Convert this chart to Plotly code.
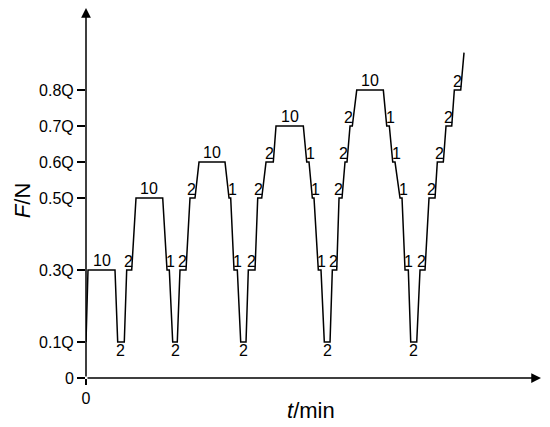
import plotly.graph_objects as go

# Vertices of the loading program: time (min) and force (fraction of Q)
t_min = [0.0, 0.75, 10.86, 11.87, 14.34, 15.24, 17.12, 18.73, 28.73, 30.34,
         31.2, 32.47, 34.19, 35.2, 37.45, 38.95, 40.82, 42.32, 52.06, 53.56,
         54.19, 55.43, 56.67, 57.94, 59.93, 60.79, 63.3, 64.31, 65.81, 67.42,
         70.15, 71.16, 81.39, 82.66, 83.52, 84.76, 85.39, 87.0, 88.01, 89.25,
         91.39, 92.25, 93.9, 94.76, 95.88, 97.0, 97.75, 98.88, 99.74, 101.39,
         111.35, 112.62, 113.6, 114.87, 115.73, 117.6, 118.35, 119.48, 120.71, 121.61,
         123.86, 125.09, 126.97, 128.46, 130.71, 131.57, 133.82, 134.83, 136.97, 137.94,
         140.34, 141.57]
force_q = [0.1, 0.3, 0.3, 0.1, 0.1, 0.3, 0.3, 0.5, 0.5, 0.3,
           0.3, 0.1, 0.1, 0.3, 0.3, 0.5, 0.5, 0.6, 0.6, 0.5,
           0.5, 0.3, 0.3, 0.1, 0.1, 0.3, 0.3, 0.5, 0.5, 0.6,
           0.6, 0.7, 0.7, 0.6, 0.6, 0.5, 0.5, 0.3, 0.3, 0.1,
           0.1, 0.3, 0.3, 0.5, 0.5, 0.6, 0.6, 0.7, 0.7, 0.8,
           0.8, 0.7, 0.7, 0.6, 0.6, 0.5, 0.5, 0.3, 0.3, 0.1,
           0.1, 0.3, 0.3, 0.5, 0.5, 0.6, 0.6, 0.7, 0.7, 0.8,
           0.8, 0.904]

# Holding durations (min) for each flat stage, in order
hold_labels = ["10", "2", "2",
               "10", "1", "2", "2", "2",
               "10", "1", "1", "2", "2", "2", "2",
               "10", "1", "1", "1", "2", "2", "2", "2", "2",
               "10", "1", "1", "1", "1", "2", "2", "2", "2", "2", "2"]

y_tick_vals = [0, 0.1, 0.3, 0.5, 0.6, 0.7, 0.8]
y_tick_text = ["0", "0.1Q", "0.3Q", "0.5Q", "0.6Q", "0.7Q", "0.8Q"]
x_tick_vals = [0]
x_tick_text = ["0"]

X_MAX = 170.4
Y_MAX = 1.028
FONT = "Arial, 'Liberation Sans', sans-serif"

fig = go.Figure()
fig.add_trace(go.Scatter(x=t_min, y=force_q, mode="lines",
                         line=dict(color="black", width=1.5),
                         hoverinfo="skip", showlegend=False))

annotations = []
k = 0
n = len(t_min)
for i in range(n - 1):
    if force_q[i] == force_q[i + 1]:
        if k >= len(hold_labels):
            break
        lab = hold_labels[k]
        k += 1
        f = force_q[i]
        prev_f = force_q[i - 1] if i > 0 else f - 1
        next_f = force_q[i + 2] if i + 2 < n else f + 1
        t0, t1 = t_min[i], t_min[i + 1]
        if prev_f < f and next_f < f:      # peak hold
            a = dict(x=(t0 + t1) / 2, y=f, xanchor="center", yanchor="bottom", yshift=0)
        elif prev_f > f and next_f > f:    # valley hold
            a = dict(x=(t0 + t1) / 2, y=f, xanchor="center", yanchor="top", yshift=1)
        elif prev_f < f < next_f:          # loading step
            a = dict(x=t1, y=f, xanchor="right", yanchor="bottom", xshift=2, yshift=-1)
        else:                              # unloading step
            a = dict(x=t0, y=f, xanchor="left", yanchor="bottom", xshift=-2, yshift=-1)
        a.update(text=lab, showarrow=False, xref="x", yref="y",
                 font=dict(family=FONT, size=16, color="black"), borderpad=0)
        annotations.append(a)

# axis arrows
annotations.append(dict(x=X_MAX, y=0, ax=0, ay=0, xref="x", yref="y", axref="x", ayref="y",
                        text="", showarrow=True, arrowhead=2, arrowsize=1.3, arrowwidth=1.5,
                        arrowcolor="black", standoff=0, startstandoff=0))
annotations.append(dict(x=0, y=Y_MAX, ax=0, ay=0, xref="x", yref="y", axref="x", ayref="y",
                        text="", showarrow=True, arrowhead=2, arrowsize=1.3, arrowwidth=1.5,
                        arrowcolor="black", standoff=0, startstandoff=0))

# axis titles
annotations.append(dict(x=0, y=0.478, xref="paper", yref="paper", xshift=-64,
                        text="<i>F</i>/N", textangle=-90, showarrow=False,
                        xanchor="center", yanchor="middle",
                        font=dict(family=FONT, size=22, color="black")))
annotations.append(dict(x=0.4945, y=0, xref="paper", yref="paper", yshift=-32,
                        text="<i>t</i>/min", showarrow=False,
                        xanchor="center", yanchor="middle",
                        font=dict(family=FONT, size=22, color="black")))

fig.update_layout(
    width=550, height=427,
    margin=dict(l=86, r=9, t=8, b=49),
    plot_bgcolor="white", paper_bgcolor="white",
    showlegend=False,
    annotations=annotations,
    font=dict(family=FONT, size=16, color="black"),
)
fig.update_xaxes(range=[0, X_MAX], showgrid=False, zeroline=False, showline=False,
                 tickmode="array", tickvals=x_tick_vals, ticktext=x_tick_text,
                 ticks="outside", ticklen=6, tickwidth=1.5, tickcolor="black",
                 tickfont=dict(family=FONT, size=16, color="black"))
fig.update_yaxes(range=[0, Y_MAX], showgrid=False, zeroline=False, showline=False,
                 tickmode="array", tickvals=y_tick_vals, ticktext=y_tick_text,
                 ticks="outside", ticklen=8, tickwidth=1.5, tickcolor="black",
                 tickfont=dict(family=FONT, size=16, color="black"))

fig.write_html("out.html",
               config={"displayModeBar": False, "staticPlot": True},
               post_script="document.body.style.margin='0';document.body.style.overflow='hidden';")
